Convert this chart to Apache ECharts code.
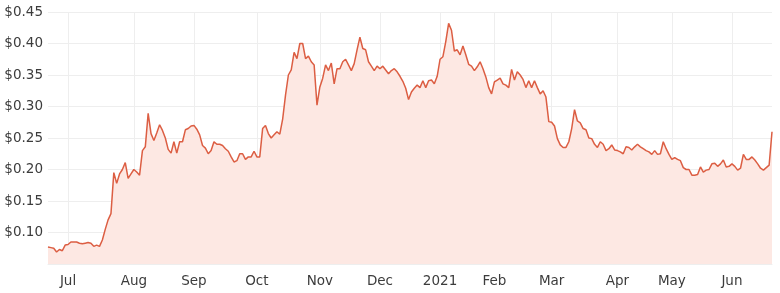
<!DOCTYPE html>
<html>
<head>
<meta charset="utf-8">
<script src="https://cdn.jsdelivr.net/npm/echarts@6/dist/echarts.min.js"></script>
<style>
html,body{margin:0;padding:0;background:#fff;}
#chart{width:780px;height:293px;}
</style>
</head>
<body>
<div id="chart"></div>
<script>
// Trading-day calendar (ASX), first and last session of the period
const startDate = '2020-06-22';
const endDate = '2021-06-22';
const holidays = ['2020-12-25','2020-12-28','2021-01-01','2021-01-26','2021-04-02','2021-04-05','2021-04-26','2021-06-14'];

// Closing prices (AUD) by period
const priceJun20Jul20 = [0.077,0.076,0.075,0.069,0.073,0.071,0.080,
  0.081,0.085,0.085,0.085,0.083,0.082,0.083,0.084,0.083,0.078,0.080,0.078,0.088,0.105,0.120,0.130,0.195,0.178,0.193,0.200,0.211,0.186,0.193];
const priceAug20Sep20 = [0.200,0.196,0.191,0.230,0.236,0.289,0.257,0.246,0.258,0.271,0.262,0.250,0.232,0.226,0.244,0.226,0.244,0.244,0.263,0.265,0.269,
  0.270,0.264,0.255,0.238,0.234,0.225,0.230,0.244,0.240,0.240,0.238,0.233,0.229,0.220,0.212,0.214,0.225,0.225,0.216,0.220,0.220,0.229];
const priceOct20Nov20 = [0.220,0.220,0.265,0.270,0.257,0.250,0.255,0.260,0.256,0.280,0.318,0.350,0.358,0.386,0.376,0.400,0.400,0.376,0.380,0.371,0.366,0.302,
  0.331,0.345,0.366,0.357,0.369,0.336,0.360,0.360,0.371,0.375,0.366,0.357,0.368,0.390,0.410,0.392,0.390,0.371,0.364,0.357,0.364];
const priceDec20Jan21 = [0.360,0.364,0.358,0.352,0.357,0.360,0.355,0.348,0.340,0.329,0.311,0.323,0.329,0.334,0.330,0.341,0.330,0.341,0.342,0.336,0.348,
  0.375,0.379,0.403,0.432,0.421,0.388,0.390,0.382,0.396,0.382,0.367,0.364,0.357,0.363,0.371,0.360,0.347,0.330,0.320];
const priceFeb21Mar21 = [0.339,0.342,0.345,0.336,0.334,0.330,0.359,0.342,0.355,0.350,0.343,0.330,0.341,0.330,0.341,0.330,0.320,0.325,0.315,0.276,
  0.275,0.269,0.249,0.239,0.235,0.235,0.244,0.265,0.295,0.277,0.274,0.265,0.263,0.250,0.249,0.240,0.235,0.244,0.240,0.230,0.233,0.239,0.231];
const priceApr21Jun21 = [0.230,0.228,0.225,0.236,0.235,0.231,0.236,0.240,0.236,0.233,0.230,0.228,0.224,0.230,0.224,0.225,0.244,0.233,0.224,
  0.216,0.219,0.216,0.214,0.203,0.200,0.200,0.191,0.191,0.192,0.204,0.196,0.199,0.200,0.209,0.210,0.205,0.209,0.215,0.204,0.205,
  0.209,0.205,0.199,0.202,0.224,0.216,0.216,0.220,0.215,0.209,0.202,0.199,0.203,0.207,0.260];

// Axis tick labels
const monthNames = ['2021','Feb','Mar','Apr','May','Jun','Jul','Aug','Sep','Oct','Nov','Dec'];
const yTicks = {min:0.05, max:0.45, step:0.05};

function fmt(d){
  const m = d.getUTCMonth()+1, dd = d.getUTCDate();
  return d.getUTCFullYear()+'-'+(m<10?'0':'')+m+'-'+(dd<10?'0':'')+dd;
}
const dates = [];
{
  let d = new Date(startDate+'T00:00:00Z');
  const end = new Date(endDate+'T00:00:00Z');
  while (d <= end){
    const wd = d.getUTCDay();
    const s = fmt(d);
    if (wd!==0 && wd!==6 && holidays.indexOf(s)<0) dates.push(s);
    d = new Date(d.getTime()+86400000);
  }
}
const prices = [].concat(priceJun20Jul20, priceAug20Sep20, priceOct20Nov20, priceDec20Jan21, priceFeb21Mar21, priceApr21Jun21);

function isMonthStart(idx){
  if (idx===0) return false;
  return dates[idx].slice(5,7)!==dates[idx-1].slice(5,7);
}

const chart = echarts.init(document.getElementById('chart'), null, {renderer:'canvas'});
chart.setOption({
  animation:false,
  grid:{left:48,right:8,top:12,bottom:29,containLabel:false},
  xAxis:{
    type:'category',
    data:dates,
    boundaryGap:false,
    axisLine:{show:true,lineStyle:{color:'#eeeeee'}},
    axisTick:{show:false},
    axisLabel:{
      interval:function(i){return isMonthStart(i);},
      formatter:function(v){return monthNames[(parseInt(v.slice(5,7),10)-1)];},
      color:'#3c3c3c',fontSize:13.5,fontFamily:'DejaVu Sans',margin:10
    },
    splitLine:{show:true,interval:function(i){return isMonthStart(i);},lineStyle:{color:'#eeeeee',width:1}}
  },
  yAxis:{
    type:'value',
    min:yTicks.min,max:yTicks.max,interval:yTicks.step,
    axisLine:{show:false},axisTick:{show:false},
    axisLabel:{
      showMinLabel:false,
      formatter:function(v){return '$'+v.toFixed(2);},
      color:'#3c3c3c',fontSize:13.5,fontFamily:'DejaVu Sans',margin:5
    },
    splitLine:{show:true,lineStyle:{color:'#eeeeee',width:1}}
  },
  series:[{
    type:'line',
    data:prices,
    showSymbol:false,
    symbol:'none',
    lineStyle:{color:'#dc5e43',width:1.5},
    itemStyle:{color:'#dc5e43'},
    areaStyle:{color:'#fde8e3',opacity:1}
  }]
});
</script>
</body>
</html>
